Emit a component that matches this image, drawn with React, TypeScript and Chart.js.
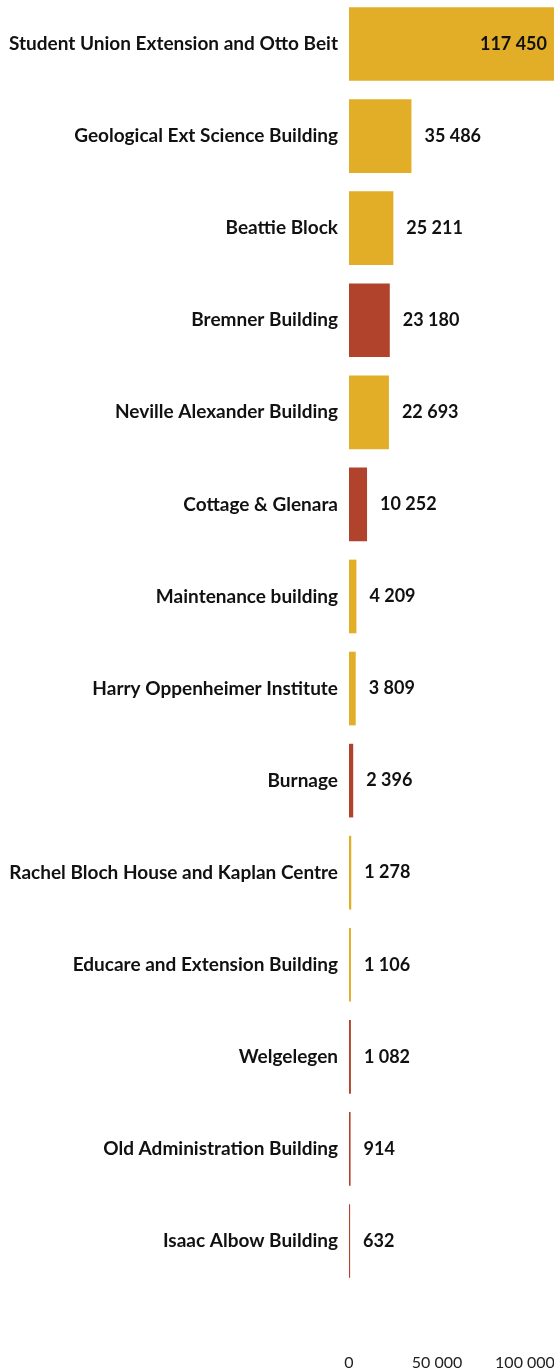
import React, { useEffect, useRef } from "react";
import { Chart, registerables } from "chart.js";

Chart.register(...registerables);

const categories = [
  "Student Union Extension and Otto Beit",
  "Geological Ext Science Building",
  "Beattie Block",
  "Bremner Building",
  "Neville Alexander Building",
  "Cottage & Glenara",
  "Maintenance building",
  "Harry Oppenheimer Institute",
  "Burnage",
  "Rachel Bloch House and Kaplan Centre",
  "Educare and Extension Building",
  "Welgelegen",
  "Old Administration Building",
  "Isaac Albow Building",
];

const values = [117450, 35486, 25211, 23180, 22693, 10252, 4209, 3809, 2396, 1278, 1106, 1082, 914, 632];

// "g" = gold, "r" = red
const colorGroups = ["g", "g", "g", "r", "g", "r", "g", "g", "r", "g", "g", "r", "r", "r"];

const xTicks = [0, 50000, 100000];

const GOLD = "#E3AE27";
const RED = "#B1432D";

const fmt = (v: number) => String(Math.round(v)).replace(/\B(?=(\d{3})+(?!\d))/g, " ");

const valueLabels = {
  id: "valueLabels",
  afterDatasetsDraw(chart: any) {
    const ctx = chart.ctx;
    const meta = chart.getDatasetMeta(0);
    const area = chart.chartArea;
    ctx.save();
    ctx.font = "bold 18px Lato";
    ctx.fillStyle = "#111111";
    ctx.textBaseline = "middle";
    meta.data.forEach((bar: any, i: number) => {
      const text = fmt(values[i]);
      const w = ctx.measureText(text).width;
      if (bar.x + 13 + w > area.right) {
        ctx.textAlign = "right";
        ctx.fillText(text, Math.min(bar.x, area.right) - 7, bar.y);
      } else {
        ctx.textAlign = "left";
        ctx.fillText(text, bar.x + 13, bar.y);
      }
    });
    ctx.restore();
  },
};

export default function App() {
  const ref = useRef<HTMLCanvasElement>(null);
  useEffect(() => {
    if (!ref.current) return;
    const chart = new Chart(ref.current, {
      type: "bar",
      data: {
        labels: categories,
        datasets: [
          {
            data: values,
            backgroundColor: colorGroups.map((g) => (g === "g" ? GOLD : RED)),
            borderWidth: 0,
            barPercentage: 1,
            categoryPercentage: 0.8,
          },
        ],
      },
      options: {
        indexAxis: "y",
        animation: false,
        responsive: false,
        layout: { padding: 0 },
        plugins: {
          legend: { display: false },
          tooltip: { enabled: false },
        },
        scales: {
          x: {
            min: 0,
            max: 116500,
            afterBuildTicks: (s: any) => {
              s.ticks = xTicks.map((v) => ({ value: v }));
            },
            afterFit: (s: any) => {
              s.height = 82;
              s.paddingLeft = 0;
              s.paddingRight = 0;
            },
            grid: { display: false, drawTicks: false },
            border: { display: false },
            ticks: {
              padding: 66,
              color: "#222222",
              font: { family: "Lato", size: 16 },
              maxRotation: 0,
              callback: (v: any) => fmt(Number(v)),
            },
          },
          y: {
            afterFit: (s: any) => {
              s.width = 349;
              s.paddingTop = 0;
              s.paddingBottom = 0;
            },
            grid: { display: false, drawTicks: false },
            border: { display: false },
            ticks: {
              padding: 11,
              color: "#111111",
              font: { family: "Lato", size: 19, weight: "bold" },
            },
          },
        },
      },
      plugins: [valueLabels],
    });
    return () => chart.destroy();
  }, []);
  return (
    <div style={{ position: "fixed", left: 0, top: -2, width: 554, height: 1371, background: "#fff" }}>
      <canvas ref={ref} width={554} height={1371} style={{ width: 554, height: 1371, display: "block" }} />
    </div>
  );
}
